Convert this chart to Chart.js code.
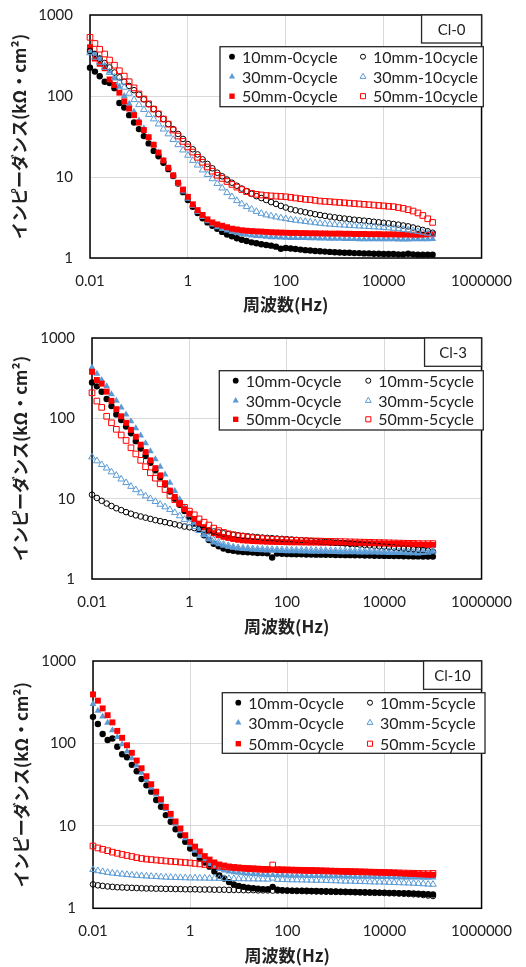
<!DOCTYPE html>
<html>
<head>
<meta charset="utf-8">
<script src="https://cdn.jsdelivr.net/npm/chart.js@4.4.1/dist/chart.umd.min.js"></script>
<style>
  body { margin: 0; background: #fff; width: 526px; height: 967px; overflow: hidden; }
  .panel { position: absolute; left: 0; width: 526px; }
  canvas { display: block; }
</style>
</head>
<body>
<div class="panel" style="top:0"><canvas id="cl0" width="526" height="320"></canvas></div>
<div class="panel" style="top:320px"><canvas id="cl3" width="526" height="320"></canvas></div>
<div class="panel" style="top:640px"><canvas id="cl10" width="526" height="327"></canvas></div>
<script>
// Impedance vs frequency, three chloride levels

const freqHz = [
  0.01, 0.0126, 0.0158, 0.02, 0.0251, 0.0316, 0.0398, 0.0501, 0.0631, 0.0794,
  0.1, 0.126, 0.158, 0.2, 0.251, 0.316, 0.398, 0.501, 0.631, 0.794,
  1, 1.26, 1.58, 2, 2.51, 3.16, 3.98, 5.01, 6.31, 7.94,
  10, 12.6, 15.8, 20, 25.1, 31.6, 39.8, 50.1, 63.1, 79.4,
  100, 126, 158, 200, 251, 316, 398, 501, 631, 794,
  1000, 1259, 1585, 1995, 2512, 3162, 3981, 5012, 6310, 7943,
  10000, 12589, 15849, 19953, 25119, 31623, 39811, 50119, 63096, 79433,
  100000
];
const xTickValues = [0.01, 1, 100, 10000, 1000000];
const xTickLabels = ['0.01', '1', '100', '10000', '1000000'];
const yTickValues = [1, 10, 100, 1000];
const yTickLabels = ['1', '10', '100', '1000'];

const labelsCl0 = ['10mm-0cycle', '30mm-0cycle', '50mm-0cycle', '10mm-10cycle', '30mm-10cycle', '50mm-10cycle'];
const labelsCl3 = ['10mm-0cycle', '30mm-0cycle', '50mm-0cycle', '10mm-5cycle', '30mm-5cycle', '50mm-5cycle'];
const labelsCl10 = ['10mm-0cycle', '30mm-0cycle', '50mm-0cycle', '10mm-5cycle', '30mm-5cycle', '50mm-5cycle'];

// Cl-0
const cl0_10mm_0 = [
  224, 200, 175, 150, 145, 125, 82, 72, 58, 47,
  39, 32, 26, 21, 18, 15, 12.5, 10.3, 8.3, 6.5,
  5.2, 4.3, 3.6, 3.1, 2.75, 2.5, 2.3, 2.1, 1.95, 1.85,
  1.75, 1.68, 1.62, 1.56, 1.52, 1.48, 1.45, 1.42, 1.38, 1.3,
  1.33, 1.31, 1.29, 1.27, 1.25, 1.24, 1.22, 1.21, 1.2, 1.19,
  1.18, 1.17, 1.16, 1.16, 1.15, 1.15, 1.14, 1.14, 1.13, 1.13,
  1.12, 1.12, 1.12, 1.11, 1.11, 1.13, 1.11, 1.1, 1.1, 1.1,
  1.1
];
const cl0_30mm_0 = [
  355, 330, 290, 240, 200, 165, 130, 100, 80, 64,
  50, 40, 31, 25, 20, 16, 12.8, 10.2, 8.2, 6.6,
  5.4, 4.4, 3.7, 3.2, 2.85, 2.6, 2.4, 2.28, 2.18, 2.1,
  2.03, 1.98, 1.94, 1.9, 1.87, 1.85, 1.83, 1.81, 1.8, 1.79,
  1.78, 1.77, 1.77, 1.76, 1.76, 1.75, 1.75, 1.74, 1.74, 1.73,
  1.73, 1.73, 1.72, 1.72, 1.72, 1.71, 1.71, 1.71, 1.7, 1.7,
  1.7, 1.7, 1.7, 1.69, 1.69, 1.69, 1.7, 1.7, 1.71, 1.71,
  1.72
];
const cl0_50mm_0 = [
  400, 290, 250, 220, 160, 137, 110, 86, 70, 58,
  47, 38, 31, 25, 20, 16, 13, 10.5, 8.5, 7,
  5.7, 4.6, 3.9, 3.4, 3.0, 2.75, 2.6, 2.5, 2.4, 2.3,
  2.25, 2.2, 2.17, 2.15, 2.13, 2.12, 2.1, 2.08, 2.07, 2.06,
  2.05, 2.04, 2.04, 2.03, 2.03, 2.02, 2.02, 2.01, 2.01, 2.0,
  2.0, 2.0, 1.99, 1.99, 1.98, 1.98, 1.98, 1.97, 1.97, 1.97,
  1.96, 1.96, 1.96, 1.95, 1.95, 1.95, 1.94, 1.94, 1.95, 1.96,
  1.97
];
const cl0_10mm_10 = [
  360, 330, 290, 255, 225, 195, 170, 150, 133, 118,
  104, 91, 79, 69, 60, 52, 45, 39, 34, 29.5,
  25.5, 22, 19, 16.5, 14.5, 12.8, 11.3, 10.2, 9.3, 8.5,
  7.8, 7.2, 6.7, 6.2, 5.8, 5.5, 5.2, 4.9, 4.65, 4.4,
  4.2, 4.0, 3.88, 3.77, 3.67, 3.57, 3.47, 3.39, 3.31, 3.24,
  3.18, 3.12, 3.07, 3.02, 2.97, 2.93, 2.89, 2.85, 2.8, 2.76,
  2.72, 2.68, 2.63, 2.58, 2.52, 2.46, 2.38, 2.3, 2.22, 2.14,
  2.05
];
const cl0_30mm_10 = [
  340, 300, 260, 225, 195, 170, 148, 128, 108, 90,
  78, 68, 59, 52, 45, 39, 34, 29, 25, 21.5,
  18.5, 16, 14, 12.2, 10.7, 9.5, 8.3, 7.3, 6.4, 5.7,
  5.1, 4.65, 4.3, 4.0, 3.75, 3.55, 3.4, 3.3, 3.2, 3.12,
  3.05, 2.98, 2.92, 2.87, 2.82, 2.77, 2.72, 2.68, 2.64, 2.61,
  2.58, 2.56, 2.54, 2.52, 2.5, 2.48, 2.46, 2.44, 2.42, 2.4,
  2.38, 2.35, 2.32, 2.29, 2.25, 2.21, 2.17, 2.12, 2.07, 2.02,
  1.97
];
const cl0_50mm_10 = [
  530, 445, 378, 330, 278, 240, 205, 176, 150, 126,
  106, 92, 80, 69, 60, 52, 45, 38, 32, 27.5,
  23.5, 20.3, 17.5, 15.2, 13.3, 11.8, 10.5, 9.6, 8.8, 8.1,
  7.5, 7.0, 6.6, 6.3, 6.1, 6.0, 5.9, 5.85, 5.8, 5.75,
  5.7, 5.6, 5.5, 5.4, 5.3, 5.25, 5.15, 5.05, 5.0, 4.95,
  4.9, 4.85, 4.8, 4.75, 4.7, 4.65, 4.6, 4.55, 4.5, 4.45,
  4.4, 4.35, 4.3, 4.2, 4.1, 3.95, 3.8, 3.6, 3.35, 3.05,
  2.75
];

// Cl-3
const cl3_10mm_0 = [
  280, 250, 214, 174, 142, 112, 95, 79, 65, 52,
  42, 34, 28, 22.5, 18.5, 15, 12.3, 10, 8.4, 7.0,
  5.9, 4.9, 4.1, 3.5, 3.05, 2.75, 2.55, 2.4, 2.3, 2.25,
  2.2, 2.17, 2.15, 2.13, 2.11, 2.1, 2.09, 1.85, 2.07, 2.06,
  2.05, 2.04, 2.03, 2.03, 2.02, 2.02, 2.01, 2.01, 2.0, 2.0,
  1.99, 1.99, 1.98, 1.98, 1.97, 1.97, 1.96, 1.96, 1.95, 1.95,
  1.94, 1.94, 1.93, 1.93, 1.92, 1.92, 1.91, 1.91, 1.9, 1.9,
  1.9
];
const cl3_30mm_0 = [
  430, 360, 300, 250, 200, 165, 136, 112, 92, 75,
  61, 49, 39, 31, 25, 20, 15.8, 12.5, 9.8, 7.8,
  6.2, 5.0, 4.1, 3.5, 3.1, 2.85, 2.7, 2.6, 2.5, 2.45,
  2.4, 2.37, 2.34, 2.32, 2.3, 2.28, 2.26, 2.25, 2.24, 2.23,
  2.22, 2.21, 2.21, 2.2, 2.2, 2.19, 2.19, 2.18, 2.18, 2.17,
  2.17, 2.16, 2.16, 2.15, 2.15, 2.14, 2.14, 2.13, 2.13, 2.12,
  2.12, 2.11, 2.11, 2.1, 2.1, 2.09, 2.09, 2.08, 2.1, 2.12,
  2.15
];
const cl3_50mm_0 = [
  380, 300, 270, 215, 165, 130, 106, 88, 72, 59,
  47, 38, 30, 24, 19.5, 15.6, 12.6, 10.5, 8.8, 7.4,
  6.5, 5.6, 4.9, 4.4, 4.0, 3.7, 3.5, 3.35, 3.25, 3.15,
  3.08, 3.03, 3.0, 2.97, 2.95, 2.93, 2.91, 2.9, 2.89, 2.88,
  2.87, 2.86, 2.86, 2.85, 2.85, 2.84, 2.84, 2.83, 2.83, 2.82,
  2.82, 2.81, 2.8, 2.8, 2.79, 2.79, 2.78, 2.78, 2.77, 2.77,
  2.76, 2.75, 2.74, 2.73, 2.72, 2.71, 2.7, 2.68, 2.66, 2.65,
  2.66
];
const cl3_10mm_5 = [
  11.2, 10.2, 9.4, 8.7, 8.1, 7.6, 7.2, 6.8, 6.5, 6.2,
  6.0, 5.8, 5.6, 5.4, 5.25, 5.1, 4.95, 4.8, 4.65, 4.5,
  4.4, 4.3, 4.2, 4.1, 4.0, 3.9, 3.8, 3.7, 3.62, 3.55,
  3.5, 3.45, 3.4, 3.36, 3.32, 3.28, 3.25, 3.22, 3.19, 3.16,
  3.13, 3.1, 3.07, 3.04, 3.01, 2.98, 2.95, 2.92, 2.89, 2.86,
  2.83, 2.8, 2.77, 2.74, 2.71, 2.68, 2.65, 2.62, 2.59, 2.56,
  2.53, 2.5, 2.47, 2.44, 2.41, 2.38, 2.35, 2.32, 2.28, 2.24,
  2.2
];
const cl3_30mm_5 = [
  33, 29.5, 26.5, 24, 21.5, 19.5, 17.5, 15.8, 14.2, 12.9,
  11.8, 10.8, 10, 9.2, 8.5, 7.9, 7.3, 6.7, 6.1, 5.5,
  5.0, 4.5, 4.0, 3.6, 3.3, 3.05, 2.85, 2.7, 2.6, 2.5,
  2.45, 2.42, 2.4, 2.38, 2.36, 2.35, 2.34, 2.33, 2.32, 2.31,
  2.3, 2.3, 2.29, 2.29, 2.28, 2.28, 2.27, 2.27, 2.26, 2.26,
  2.25, 2.25, 2.24, 2.24, 2.23, 2.23, 2.22, 2.22, 2.21, 2.21,
  2.2, 2.2, 2.19, 2.19, 2.18, 2.18, 2.17, 2.17, 2.18, 2.2,
  2.22
];
const cl3_50mm_5 = [
  208, 164, 137, 106, 88, 73, 62, 53, 43, 36,
  30, 25, 21, 18, 15.3, 13, 11, 9.7, 8.7, 7.8,
  7.0, 6.3, 5.6, 5.1, 4.7, 4.3, 4.0, 3.8, 3.65, 3.55,
  3.45, 3.38, 3.32, 3.26, 3.22, 3.18, 3.15, 3.12, 3.1, 3.08,
  3.06, 3.04, 3.02, 3.0, 2.99, 2.98, 2.97, 2.96, 2.95, 2.94,
  2.93, 2.92, 2.91, 2.9, 2.89, 2.88, 2.87, 2.86, 2.85, 2.84,
  2.83, 2.82, 2.81, 2.8, 2.79, 2.78, 2.77, 2.76, 2.75, 2.75,
  2.76
];

// Cl-10
const cl10_10mm_0 = [
  210, 172, 130, 110, 115, 91, 74, 68, 55, 46,
  37, 31, 26, 20.6, 17, 13.5, 11.2, 9.1, 7.7, 6.4,
  5.3, 4.6, 4.0, 3.6, 3.2, 2.8, 2.5, 2.3, 2.08, 1.95,
  1.87, 1.82, 1.78, 1.75, 1.73, 1.71, 1.7, 1.82, 1.68, 1.66,
  1.65, 1.64, 1.64, 1.63, 1.63, 1.62, 1.62, 1.61, 1.61, 1.6,
  1.6, 1.59, 1.59, 1.58, 1.58, 1.57, 1.57, 1.56, 1.56, 1.55,
  1.55, 1.54, 1.54, 1.53, 1.53, 1.52, 1.51, 1.5, 1.49, 1.48,
  1.47
];
const cl10_30mm_0 = [
  300, 250, 212, 178, 145, 120, 98, 80, 66, 54,
  44, 36, 29, 24, 19.5, 16, 13, 10.6, 8.6, 7.1,
  5.9, 5.0, 4.3, 3.8, 3.45, 3.2, 3.0, 2.88, 2.8, 2.74,
  2.7, 2.66, 2.63, 2.6, 2.58, 2.56, 2.54, 2.53, 2.52, 2.51,
  2.5, 2.49, 2.48, 2.48, 2.47, 2.47, 2.46, 2.46, 2.45, 2.45,
  2.44, 2.44, 2.43, 2.43, 2.42, 2.42, 2.41, 2.41, 2.4, 2.4,
  2.39, 2.39, 2.38, 2.38, 2.37, 2.37, 2.36, 2.36, 2.35, 2.35,
  2.36
];
const cl10_50mm_0 = [
  393, 330, 266, 220, 180, 142, 117, 95, 77, 62,
  50, 40, 32, 26, 21, 17, 14, 11.3, 9.3, 7.7,
  6.4, 5.6, 4.9, 4.3, 3.9, 3.6, 3.4, 3.3, 3.2, 3.15,
  3.1, 3.07, 3.05, 3.03, 3.01, 3.0, 2.98, 2.96, 2.95, 2.94,
  2.93, 2.92, 2.91, 2.9, 2.89, 2.88, 2.87, 2.86, 2.85, 2.84,
  2.83, 2.82, 2.81, 2.8, 2.79, 2.78, 2.77, 2.76, 2.75, 2.74,
  2.73, 2.71, 2.69, 2.67, 2.65, 2.63, 2.61, 2.59, 2.57, 2.55,
  2.55
];
const cl10_10mm_5 = [
  1.95, 1.9, 1.87, 1.84, 1.82, 1.8, 1.79, 1.78, 1.77, 1.76,
  1.75, 1.74, 1.74, 1.73, 1.73, 1.72, 1.72, 1.71, 1.71, 1.7,
  1.7, 1.7, 1.69, 1.69, 1.69, 1.68, 1.68, 1.68, 1.67, 1.67,
  1.67, 1.66, 1.66, 1.66, 1.65, 1.65, 1.65, 1.64, 1.64, 1.64,
  1.63, 1.63, 1.62, 1.62, 1.61, 1.61, 1.6, 1.6, 1.59, 1.59,
  1.58, 1.58, 1.57, 1.57, 1.56, 1.56, 1.55, 1.55, 1.54, 1.54,
  1.53, 1.52, 1.52, 1.51, 1.5, 1.49, 1.48, 1.47, 1.45, 1.43,
  1.41
];
const cl10_30mm_5 = [
  2.95, 2.85, 2.78, 2.72, 2.67, 2.63, 2.59, 2.56, 2.53, 2.5,
  2.48, 2.46, 2.44, 2.42, 2.4, 2.38, 2.37, 2.36, 2.35, 2.34,
  2.33, 2.33, 2.32, 2.32, 2.31, 2.31, 2.3, 2.3, 2.29, 2.29,
  2.28, 2.28, 2.27, 2.27, 2.26, 2.26, 2.25, 2.32, 2.24, 2.23,
  2.22, 2.21, 2.21, 2.2, 2.2, 2.19, 2.18, 2.18, 2.17, 2.16,
  2.15, 2.14, 2.13, 2.13, 2.12, 2.11, 2.1, 2.09, 2.08, 2.08,
  2.07, 2.06, 2.05, 2.04, 2.03, 2.02, 2.01, 2.0, 1.98, 1.96,
  1.95
];
const cl10_50mm_5 = [
  5.7, 5.4, 5.2, 5.0, 4.8, 4.65, 4.5, 4.37, 4.25, 4.12,
  4.02, 3.95, 3.9, 3.85, 3.8, 3.75, 3.71, 3.67, 3.63, 3.59,
  3.55, 3.5, 3.45, 3.4, 3.35, 3.3, 3.25, 3.2, 3.16, 3.12,
  3.09, 3.06, 3.03, 3.01, 2.99, 2.97, 2.96, 3.35, 2.94, 2.93,
  2.92, 2.91, 2.9, 2.89, 2.88, 2.87, 2.86, 2.85, 2.84, 2.83,
  2.82, 2.81, 2.8, 2.79, 2.78, 2.77, 2.76, 2.75, 2.74, 2.73,
  2.72, 2.71, 2.7, 2.69, 2.68, 2.67, 2.66, 2.65, 2.64, 2.63,
  2.65
];

const BLUE = '#5B9BD5', RED = '#FF0000', BLACK = '#000000', NONE = 'rgba(0,0,0,0)';
const seriesStyle = [
  { pointStyle: 'circle', pointRadius: 3.2, pointBackgroundColor: BLACK, pointBorderColor: BLACK, pointBorderWidth: 0 },
  { pointStyle: 'triangle', pointRadius: 4, pointBackgroundColor: BLUE, pointBorderColor: BLUE, pointBorderWidth: 0 },
  { pointStyle: 'rect', pointRadius: 4.2, pointBackgroundColor: RED, pointBorderColor: RED, pointBorderWidth: 0 },
  { pointStyle: 'circle', pointRadius: 2.8, pointBackgroundColor: NONE, pointBorderColor: BLACK, pointBorderWidth: 1 },
  { pointStyle: 'triangle', pointRadius: 3.8, pointBackgroundColor: NONE, pointBorderColor: BLUE, pointBorderWidth: 1 },
  { pointStyle: 'rect', pointRadius: 4, pointBackgroundColor: NONE, pointBorderColor: RED, pointBorderWidth: 1 }
];

Chart.defaults.font.family = "Lato, 'Noto Sans', sans-serif";
Chart.defaults.color = '#222';
const titleFont = { family: "'Noto Sans CJK JP', sans-serif", size: 17, weight: 'bold' };

function panelPlugin(tag, g) {
  return {
    id: 'panel',
    beforeDatasetsDraw(chart) {
      const { ctx, chartArea: a } = chart;
      ctx.save();
      ctx.strokeStyle = '#000';
      ctx.lineWidth = 1.5;
      ctx.strokeRect(a.left, a.top, a.right - a.left, a.bottom - a.top);
      ctx.restore();
    },
    afterDatasetsDraw(chart) {
      const { ctx, chartArea: a } = chart;
      const t = g.tag, L = g.legend;
      ctx.save();
      ctx.lineWidth = 1.3;
      ctx.strokeStyle = '#262626';
      ctx.fillStyle = '#fff';
      ctx.fillRect(a.right - t.w, a.top, t.w, t.h);
      ctx.strokeRect(a.right - t.w, a.top, t.w, t.h);
      ctx.fillStyle = '#222';
      ctx.font = '15px Lato';
      ctx.textAlign = 'center';
      ctx.textBaseline = 'middle';
      ctx.fillText(tag, a.right - t.w / 2, a.top + t.h / 2 + 1);

      ctx.fillStyle = '#fff';
      ctx.fillRect(L.x, L.y, L.w, L.h);
      ctx.strokeRect(L.x, L.y, L.w, L.h);
      ctx.font = '16px Lato';
      ctx.textAlign = 'left';
      chart.data.datasets.forEach((ds, i) => {
        const mx = L.x + L.cols[i < 3 ? 0 : 1];
        const my = L.y + L.rows[i % 3];
        ctx.fillStyle = ds.pointBackgroundColor;
        ctx.strokeStyle = ds.pointBorderColor;
        ctx.lineWidth = ds.pointBorderWidth;
        Chart.helpers.drawPoint(ctx, { pointStyle: ds.pointStyle, radius: ds.pointRadius * 0.9, rotation: 0, borderWidth: ds.pointBorderWidth }, mx, my);
        ctx.fillStyle = '#222';
        ctx.fillText(ds.label, mx + 10, my + 1);
      });
      ctx.restore();
    }
  };
}

function makeChart(id, tag, labels, series, g) {
  const datasets = series.map((vals, i) => Object.assign({
    label: labels[i],
    data: vals.map((v, k) => ({ x: freqHz[k], y: v })),
    showLine: false,
    clip: false,
    order: series.length - i
  }, seriesStyle[i]));

  return new Chart(document.getElementById(id), {
    type: 'scatter',
    data: { datasets },
    options: {
      responsive: false,
      animation: false,
      events: [],
      layout: { padding: { top: g.top, right: 37, left: 0, bottom: 0 } },
      plugins: { legend: { display: false }, tooltip: { enabled: false } },
      scales: {
        x: {
          type: 'logarithmic', min: 0.01, max: 1000000,
          afterBuildTicks: s => { s.ticks = xTickValues.map(v => ({ value: v })); },
          afterFit: s => { s.height = g.xh; },
          ticks: { callback: (v, i) => xTickLabels[i], padding: 14, font: { size: 15 }, maxRotation: 0, autoSkip: false },
          grid: { color: '#d9d9d9', drawTicks: false },
          border: { display: false },
          title: { display: true, text: '周波数(Hz)', font: titleFont, color: '#222', padding: { top: 0, bottom: g.xtPad } }
        },
        y: {
          type: 'logarithmic', min: 1, max: 1000,
          afterBuildTicks: s => { s.ticks = yTickValues.map(v => ({ value: v })); },
          afterFit: s => { s.width = g.left; s.paddingTop = 0; s.paddingBottom = 0; },
          ticks: { callback: (v, i) => yTickLabels[i], padding: 17, font: { size: 15 }, autoSkip: false },
          grid: { color: '#d9d9d9', drawTicks: false },
          border: { display: false },
          title: { display: true, text: 'インピーダンス(kΩ・cm²)', font: titleFont, color: '#222', padding: { top: g.ytPad, bottom: 0 } }
        }
      }
    },
    plugins: [panelPlugin(tag, g)]
  });
}

makeChart('cl0', 'Cl-0', labelsCl0,
  [cl0_10mm_0, cl0_30mm_0, cl0_50mm_0, cl0_10mm_10, cl0_30mm_10, cl0_50mm_10],
  { left: 90, top: 15, xh: 62, xtPad: 5.5, ytPad: 9.8,
    tag: { w: 60, h: 28 },
    legend: { x: 220, y: 46.7, w: 263.3, h: 60, cols: [12, 143], rows: [10, 30, 49.5] } });

makeChart('cl3', 'Cl-3', labelsCl3,
  [cl3_10mm_0, cl3_30mm_0, cl3_50mm_0, cl3_10mm_5, cl3_30mm_5, cl3_50mm_5],
  { left: 92, top: 18, xh: 61, xtPad: 3.3, ytPad: 10.3,
    tag: { w: 57, h: 28.3 },
    legend: { x: 219.3, y: 50.7, w: 264, h: 59.3, cols: [16.4, 149], rows: [10, 30, 48.6] } });

makeChart('cl10', 'Cl-10', labelsCl10,
  [cl10_10mm_0, cl10_30mm_0, cl10_50mm_0, cl10_10mm_5, cl10_30mm_5, cl10_50mm_5],
  { left: 93, top: 21, xh: 58.7, xtPad: 1.5, ytPad: 11,
    tag: { w: 58, h: 28.3 },
    legend: { x: 222.3, y: 52.7, w: 262.7, h: 60.6, cols: [16, 147.7], rows: [10, 30, 51] } });
</script>
</body>
</html>
